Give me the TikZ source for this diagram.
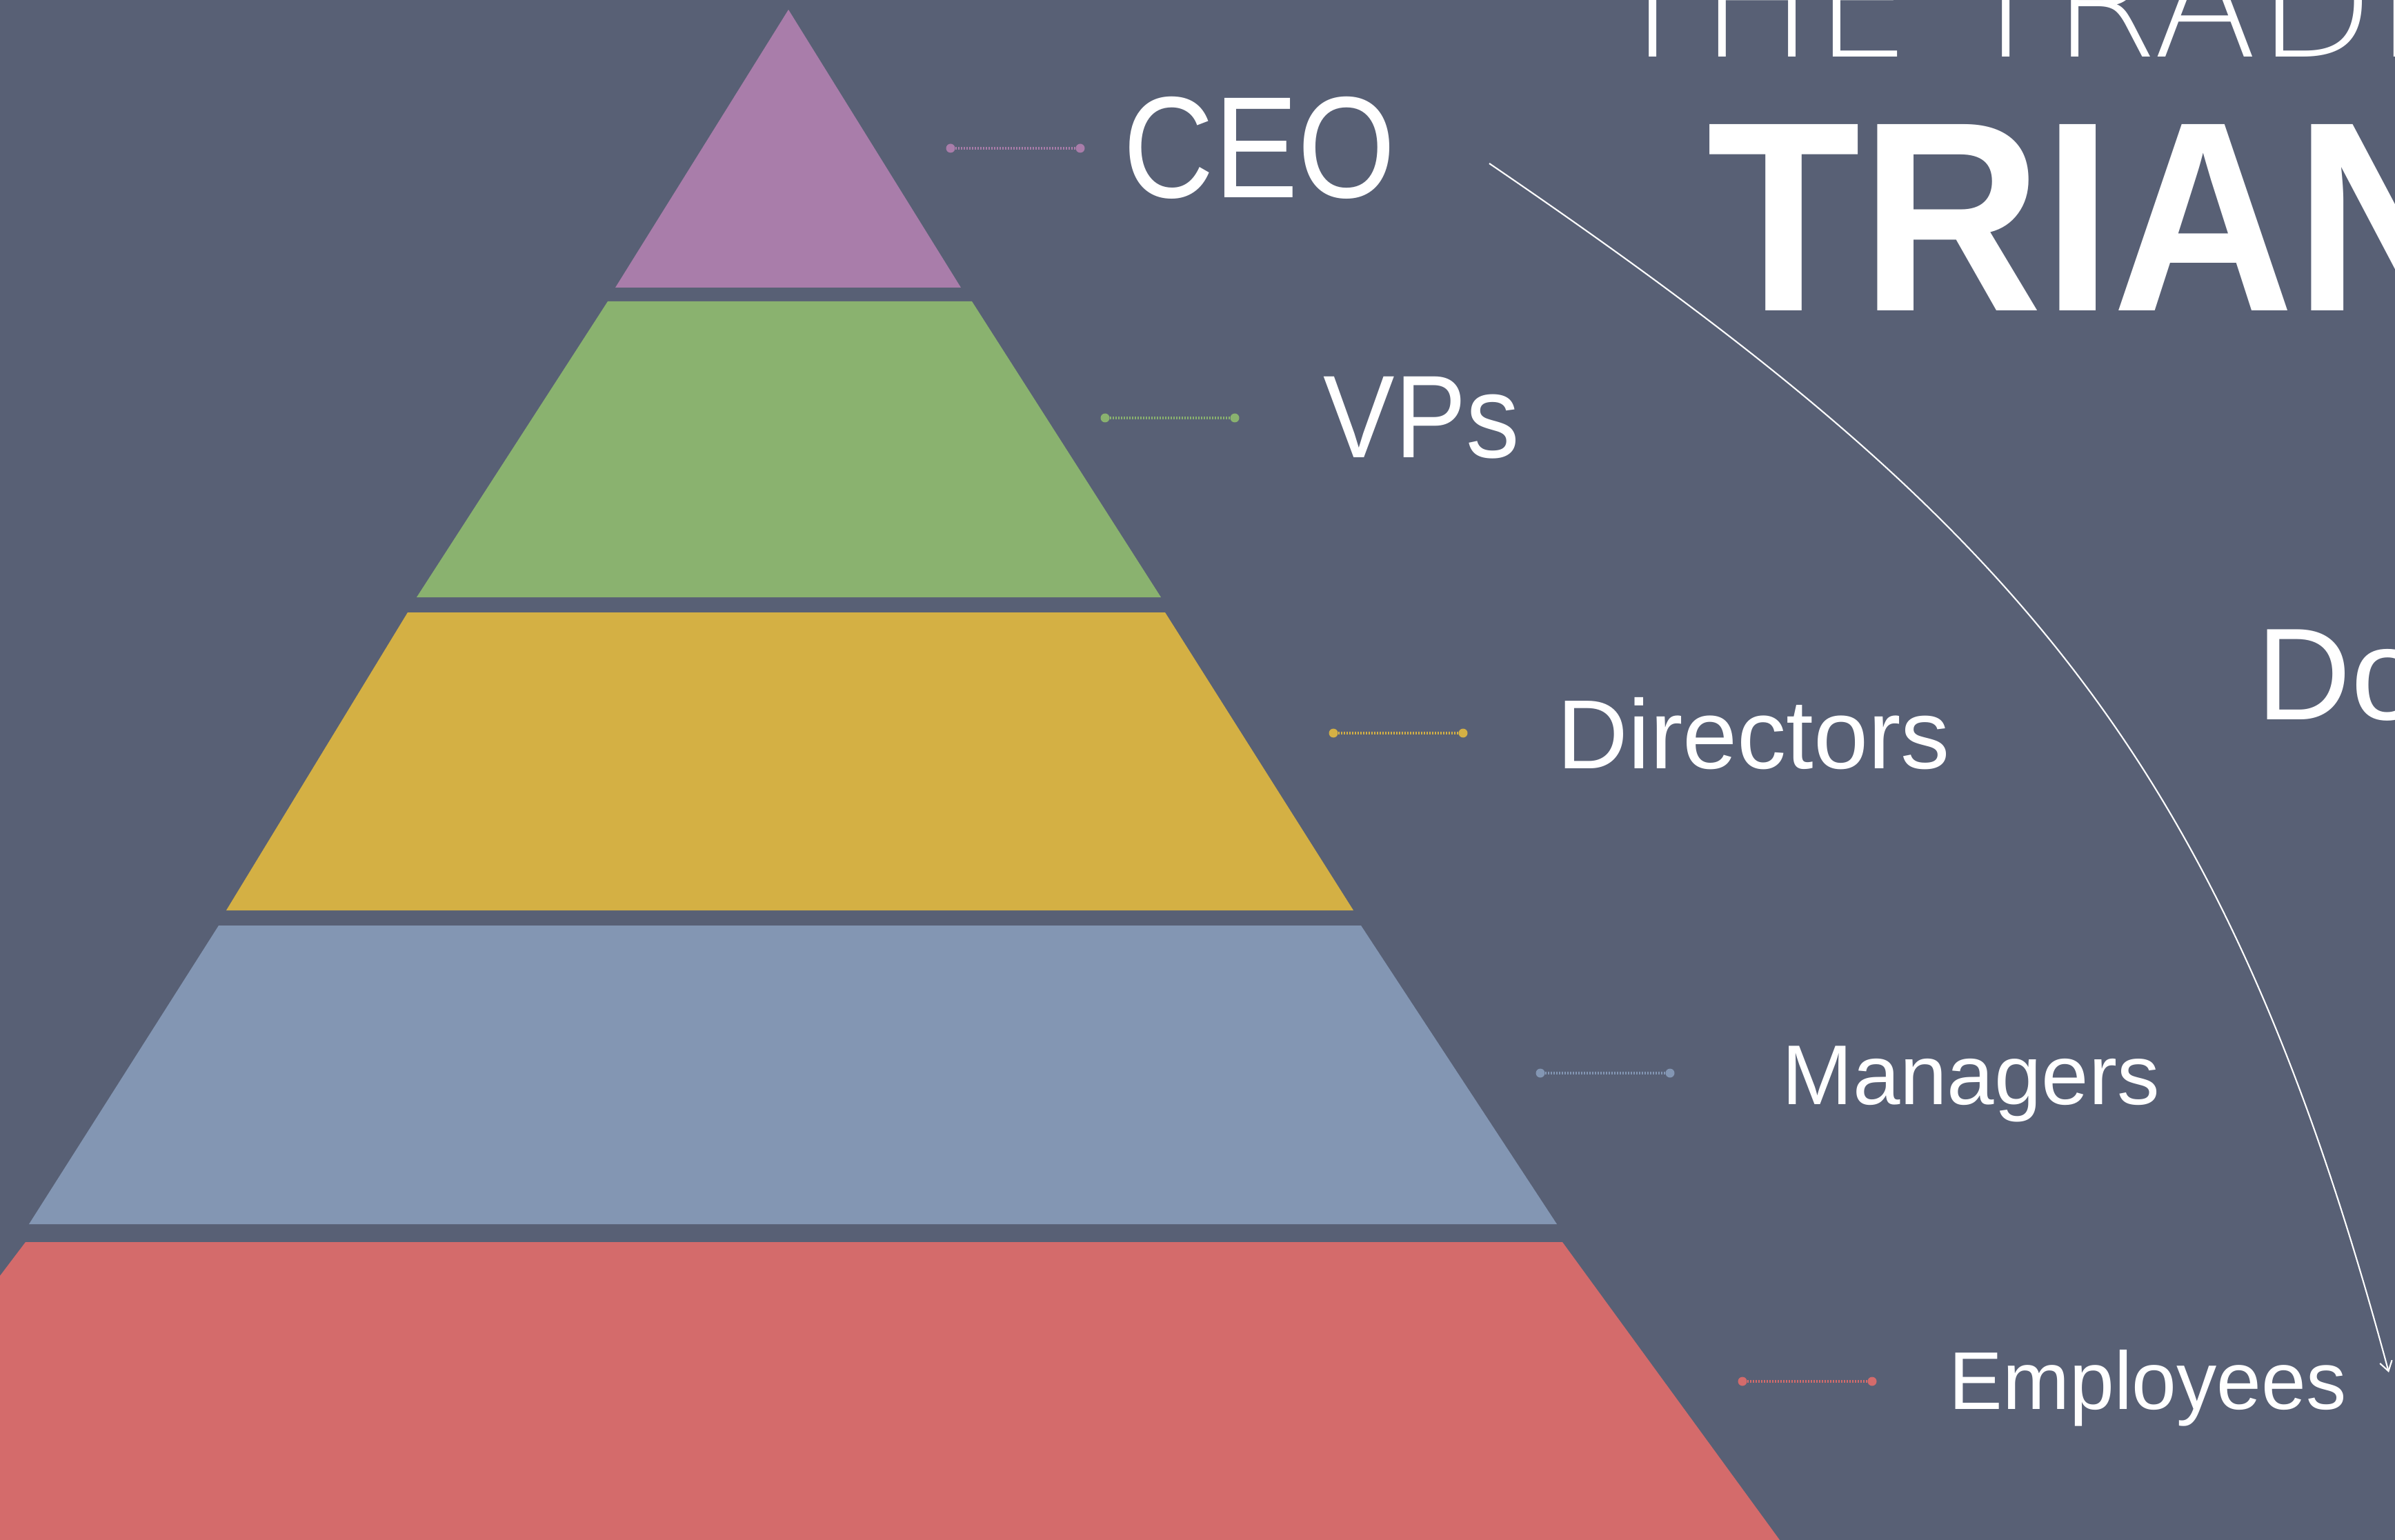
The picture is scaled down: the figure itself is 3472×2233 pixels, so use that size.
\documentclass[tikz,border=0pt]{standalone}
\usepackage{fontspec}
\setmainfont{Liberation Sans}
\IfFontExistsTF{DejaVu Sans ExtraLight}
  {\newfontfamily\thinfont{DejaVu Sans ExtraLight}}
  {\newfontfamily\thinfont{Liberation Sans}}
\usetikzlibrary{arrows.meta}
\definecolor{bbg}{HTML}{586075}
\definecolor{ppurple}{HTML}{A97DAA}
\definecolor{ggreen}{HTML}{8AB26F}
\definecolor{yyellow}{HTML}{D4B044}
\definecolor{bblue}{HTML}{8396B3}
\definecolor{rred}{HTML}{D46B6B}
\tikzset{
  lbl/.style={white, anchor=base west, inner sep=0pt},
  leaddot/.style={circle, inner sep=0pt, minimum size=1.3mm},
  leadline/.style={line width=0.9pt, dash pattern=on 0.2mm off 0.2mm},
  arrowline/.style={white, line width=0.6pt, -{Straight Barb[length=1.4mm,width=1.8mm]}}
}

\begin{document}
\begin{tikzpicture}[x=0.1mm, y=-0.1mm]
\useasboundingbox (0,0) rectangle (3472,2233);
\clip (0,0) rectangle (3472,2233);
\fill[bbg] (0,0) rectangle (3472,2233);

% pyramid
\fill[ppurple] (1143,14) -- (1393,417) -- (892,417) -- cycle;
\fill[ggreen] (881,437) -- (1409,437) -- (1683,866) -- (604,866) -- cycle;
\fill[yyellow] (591,888) -- (1689,888) -- (1962,1320) -- (328,1320) -- cycle;
\fill[bblue] (317,1342) -- (1973,1342) -- (2257,1775) -- (42,1775) -- cycle;
\fill[rred] (37,1801) -- (2265,1801) -- (2580,2233) -- (-290,2233) -- cycle;

% leaders
\foreach \n/\c/\x/\y in {ceo/ppurple/1378/215, vps/ggreen/1602/606,
  dir/yyellow/1933/1063, man/bblue/2233/1556, emp/rred/2526/2003}
{
  \node[leaddot, fill=\c] (\n-l) at (\x,\y) {};
  \node[leaddot, fill=\c] (\n-r) at (\x+188,\y) {};
  \draw[leadline, \c] (\n-l) -- (\n-r);
}

\node[lbl, font=\fontsize{59.6}{60}\selectfont] (ceo) at (1628,287) {\scalebox{0.87}[1]{CEO}};
\node[lbl, font=\fontsize{48.5}{50}\selectfont] (vps) at (1918,664) {\scalebox{0.91}[1]{VPs}};
\node[lbl, font=\fontsize{40.5}{42}\selectfont] (dir) at (2257,1114) {Directors};
\node[lbl, font=\fontsize{35}{36}\selectfont] (man) at (2583,1601) {Managers};
\node[lbl, font=\fontsize{33.8}{35}\selectfont] (emp) at (2825,2043) {\scalebox{0.98}[1]{Employees}};

% title
\node[lbl, font=\thinfont\fontsize{63}{64}\selectfont] (title) at (2328,83) {THE TRADI};
\node[lbl, font=\fontsize{111.7}{112}\selectfont\bfseries] (tri) at (2474,451) {\scalebox{0.93}[1]{TRIAN}};
\node[lbl, font=\fontsize{54}{55}\selectfont] (down) at (3271,1043) {Do};

\coordinate (arrS) at (2159,237);
\coordinate (arrE) at (3463,1990);
\draw[arrowline] (arrS) .. controls (2914,752) and (3220,1086) .. (arrE);
\end{tikzpicture}
\end{document}
